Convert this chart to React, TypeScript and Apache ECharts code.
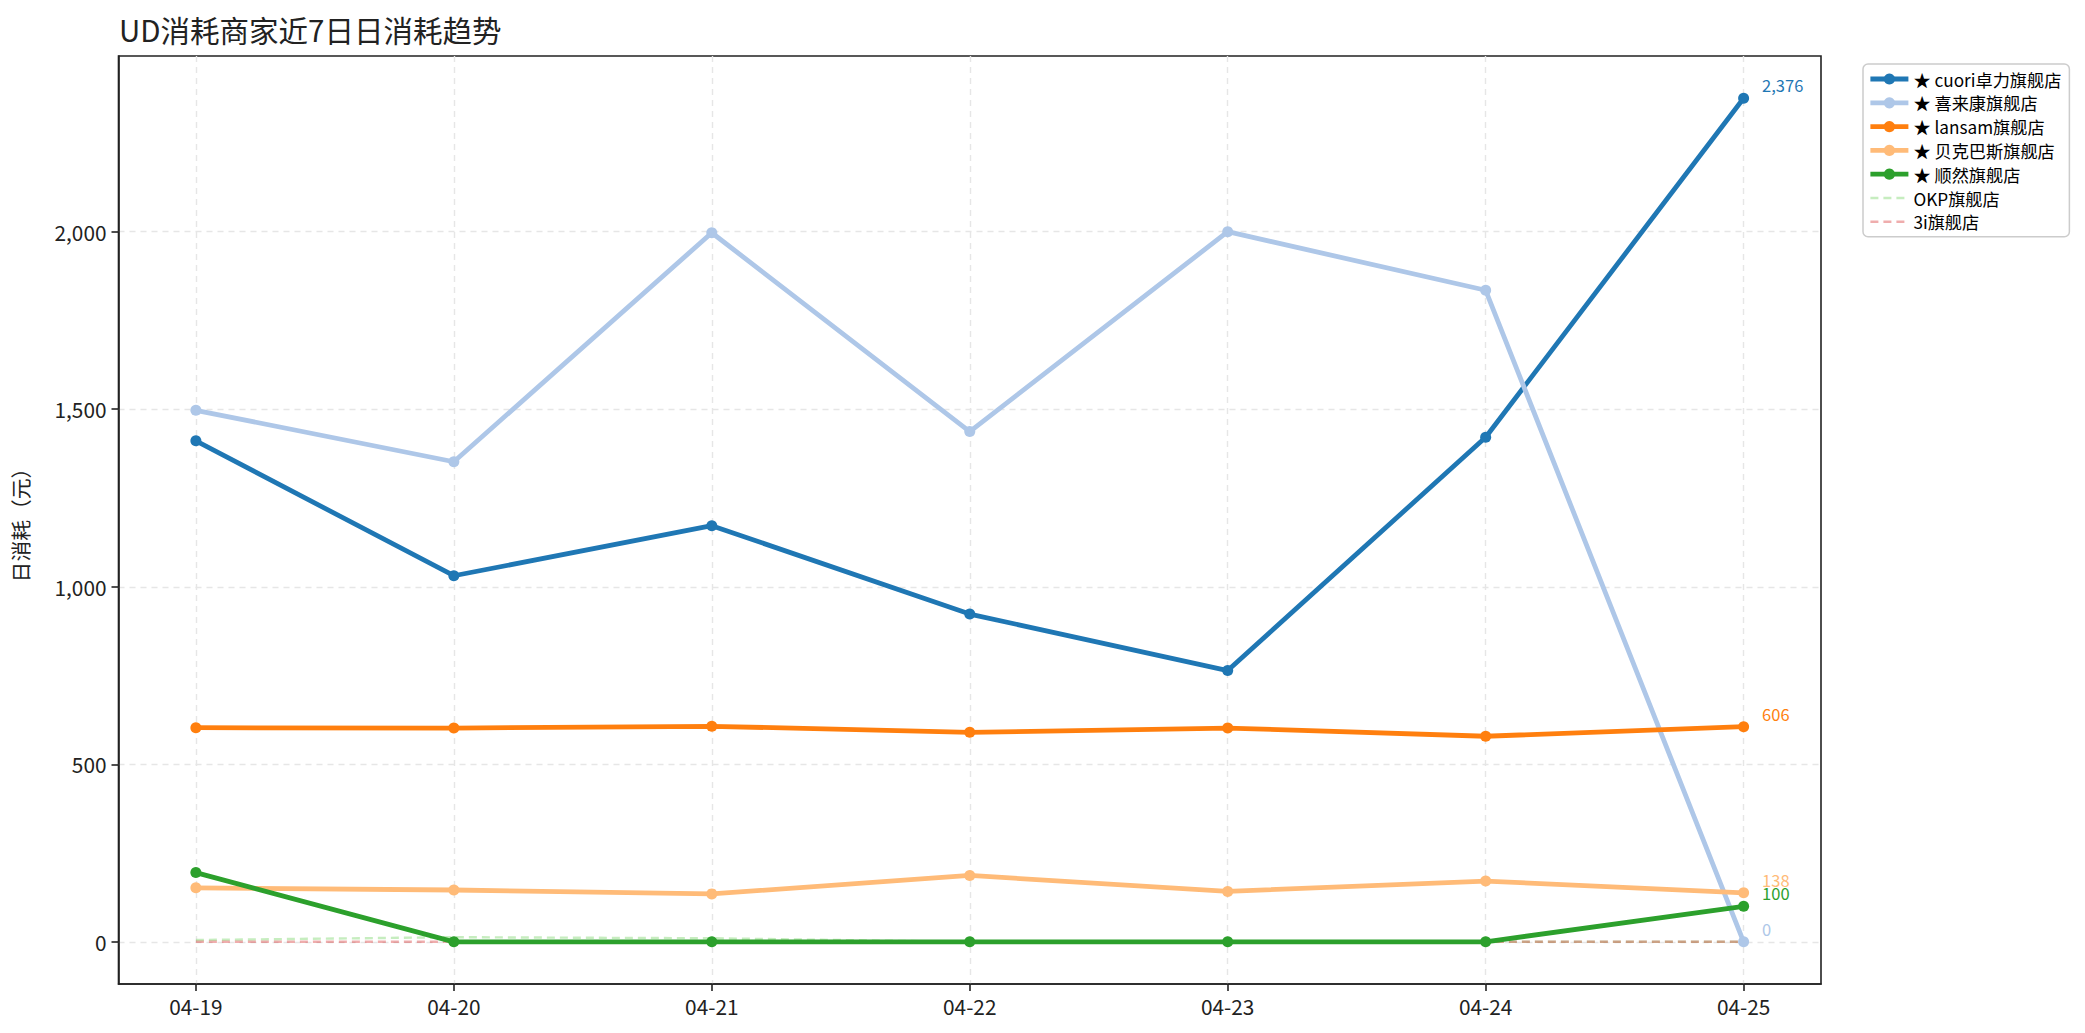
import React, { useEffect, useRef } from "react";
import * as echarts from "echarts";

const dates = ["04-19", "04-20", "04-21", "04-22", "04-23", "04-24", "04-25"];
const cuori = [1411, 1031, 1172, 923, 764, 1421, 2376];
const xilaikang = [1497, 1352, 1997, 1437, 2000, 1835, 0];
const lansam = [603, 602, 607, 590, 602, 579, 606];
const beikebasi = [152, 146, 135, 187, 142, 171, 138];
const shunran = [195, 0, 0, 0, 0, 0, 100];
const okp = [5, 13, 10, 0, 0, 0, 0];
const sani = [0, 0, 0, 0, 0, 0, 0];
const yTicks = [0, 500, 1000, 1500, 2000];

const FONT = "'Noto Sans CJK SC', 'Noto Sans', sans-serif";

const mainSeries = [
  { name: "★ cuori卓力旗舰店", data: cuori, color: "#1f77b4" },
  { name: "★ 喜来康旗舰店", data: xilaikang, color: "#aec7e8" },
  { name: "★ lansam旗舰店", data: lansam, color: "#ff7f0e" },
  { name: "★ 贝克巴斯旗舰店", data: beikebasi, color: "#ffbb78" },
  { name: "★ 顺然旗舰店", data: shunran, color: "#2ca02c" },
];
const minorSeries = [
  { name: "OKP旗舰店", data: okp, color: "rgba(152,223,138,0.55)" },
  { name: "3i旗舰店", data: sani, color: "rgba(214,39,40,0.38)" },
];

const fmt = (v: number) => v.toLocaleString("en-US");

export default function App() {
  const ref = useRef<HTMLDivElement>(null);
  useEffect(() => {
    if (!ref.current) return;
    const chart = echarts.init(ref.current, undefined, { renderer: "svg" });
    const series: any[] = [];
    minorSeries.forEach((s) => {
      series.push({
        name: s.name,
        type: "line",
        data: s.data.map((v, i) => [i, v]),
        showSymbol: false,
        symbol: "circle",
        color: s.color,
        lineStyle: { color: s.color, width: 2.4, type: [8, 5] },
        z: 1,
      });
    });
    mainSeries.forEach((s) => {
      const n = s.data.length;
      series.push({
        name: s.name,
        type: "line",
        color: s.color,
        symbol: "circle",
        symbolSize: 11,
        lineStyle: { color: s.color, width: 4.8 },
        itemStyle: { color: s.color },
        z: 3,
        data: s.data.map((v, i) =>
          i === n - 1
            ? {
                value: [i, v],
                label: {
                  show: true,
                  position: "right",
                  distance: 5,
                  offset: [8, -13],
                  color: s.color,
                  fontSize: 16.5,
                  fontFamily: FONT,
                  formatter: () => fmt(v),
                },
              }
            : [i, v]
        ),
      });
    });
    chart.setOption({
      animation: false,
      backgroundColor: "#fff",
      title: {
        text: "UD消耗商家近7日日消耗趋势",
        left: 114,
        top: 9,
        textStyle: { fontFamily: FONT, fontSize: 29.5, fontWeight: "normal", color: "#222" },
      },
      grid: {
        left: 118.5,
        right: 264,
        top: 56,
        bottom: 49,
        show: true,
        borderColor: "#222",
        borderWidth: 1.6,
        backgroundColor: "transparent",
      },
      legend: {
        orient: "vertical",
        left: 1863,
        top: 64,
        data: [
          ...mainSeries.map((s) => ({ name: s.name })),
          ...minorSeries.map((s) => ({ name: s.name, itemStyle: { opacity: 0 } })),
        ],
        itemWidth: 38,
        itemHeight: 14,
        itemGap: 5.8,
        itemTextGap: 9,
        padding: [6, 8, 6, 5],
        borderColor: "#cccccc",
        borderWidth: 1.5,
        borderRadius: 5,
        backgroundColor: "#fff",
        lineStyle: { width: "inherit" },
        textStyle: { fontFamily: FONT, fontSize: 17.2, color: "#000", lineHeight: 18 },
      },
      xAxis: {
        type: "value",
        min: -0.3,
        max: 6.3,
        axisLine: { show: true, onZero: false, lineStyle: { color: "#222", width: 1.6 } },
        axisTick: { show: true, length: 7, lineStyle: { color: "#222", width: 1.6 }, customValues: dates.map((_, i) => i) },
        axisLabel: {
          customValues: dates.map((_, i) => i),
          formatter: (v: number) => dates[Math.round(v)] ?? "",
          fontFamily: FONT,
          fontSize: 20.8,
          color: "#222",
          margin: 12,
        },
        splitLine: { show: true, lineStyle: { color: "#e6e6e6", width: 1.4, type: [6, 5] } },
      },
      yAxis: {
        type: "value",
        min: -118.8,
        max: 2494.8,
        name: "日消耗（元）",
        nameLocation: "middle",
        nameGap: 88,
        nameTextStyle: { fontFamily: FONT, fontSize: 20.8, color: "#222" },
        axisLine: { show: true, onZero: false, lineStyle: { color: "#222", width: 1.6 } },
        axisTick: { show: true, length: 7, lineStyle: { color: "#222", width: 1.6 }, customValues: yTicks },
        axisLabel: {
          customValues: yTicks,
          formatter: (v: number) => fmt(v),
          fontFamily: FONT,
          fontSize: 20.8,
          color: "#222",
          margin: 12,
        },
        splitLine: { show: true, lineStyle: { color: "#e6e6e6", width: 1.4, type: [6, 5] } },
      },
      series,
    });
    return () => chart.dispose();
  }, []);
  return <div ref={ref} style={{ position: "fixed", left: 0, top: 0, width: 2085, height: 1033 }} />;
}
